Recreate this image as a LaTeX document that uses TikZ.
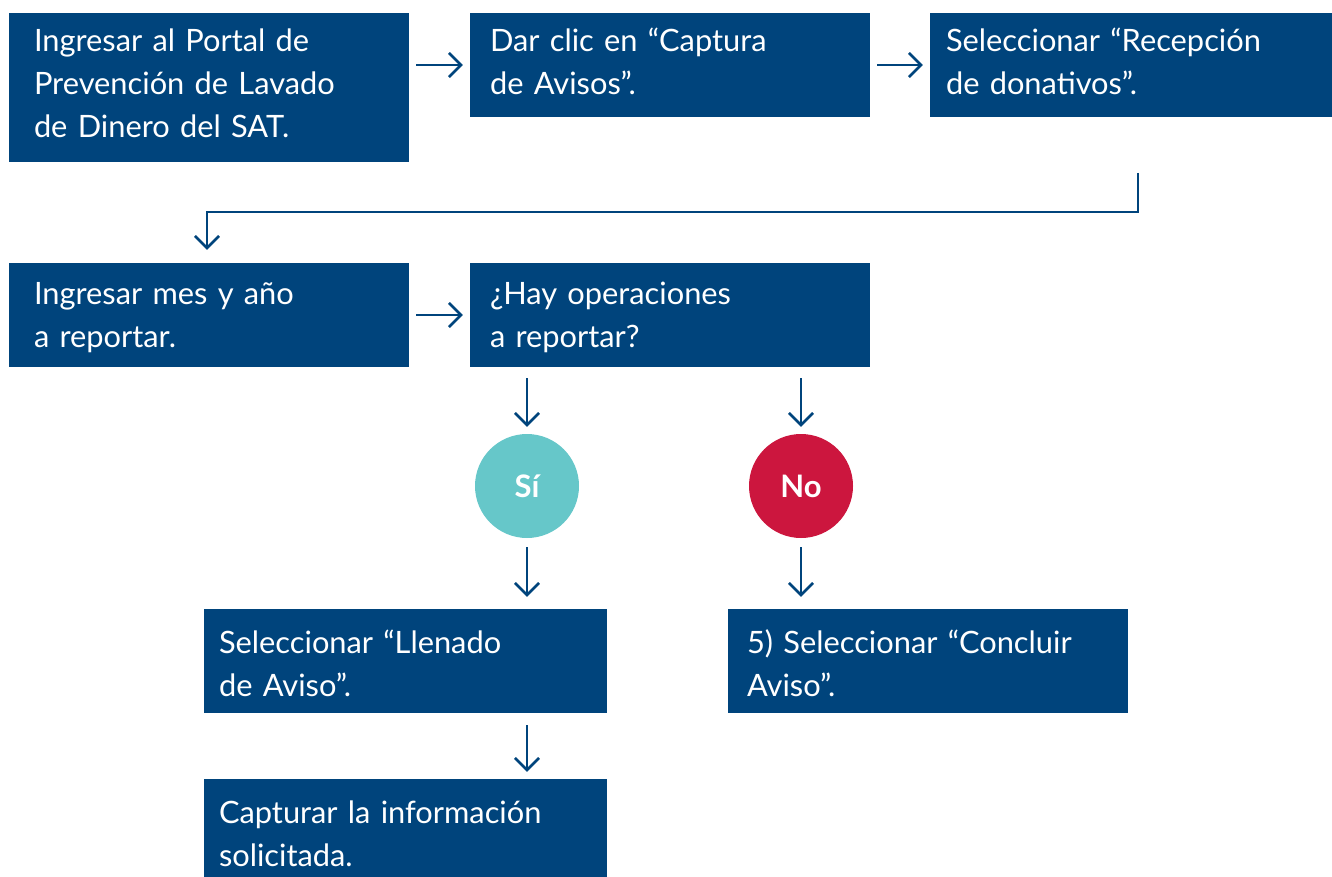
\documentclass[tikz,border=0pt]{standalone}
\usepackage{fontspec}
\setmainfont{Lato}
\usetikzlibrary{arrows.meta,calc}
\definecolor{satblue}{RGB}{0,68,124}
\definecolor{siteal}{RGB}{102,199,201}
\definecolor{nored}{RGB}{204,22,62}
\newcommand\myboxpad{\endgraf\kern-5pt\hrule height0pt width0pt}
\newcommand\mytoppad{\endgraf\kern8pt\hrule height0pt width0pt}
\begin{document}
\begin{tikzpicture}[x=1pt,y=-1pt,
  box/.style={rectangle,fill=satblue,text=white,align=left,
    font=\fontsize{30.8}{43}\selectfont,inner ysep=0pt,
    execute at end node=\myboxpad},
  topbox/.style={rectangle,fill=satblue,text=white,align=left,
    font=\fontsize{30.8}{43}\selectfont,inner ysep=0pt,
    execute at end node=\mytoppad},
  dot/.style={circle,minimum size=104pt,inner sep=0pt,text=white,
    font=\fontsize{31}{35}\selectfont\bfseries},
  arr/.style={draw=satblue,line width=2.6pt,
    -{Straight Barb[length=12pt,width=24pt,line width=2.6pt]}}]
\useasboundingbox (0,0) rectangle (1332,877);
\node[topbox,minimum width=400pt,minimum height=149pt,inner xsep=25pt,text width=350pt] (b1) at (209,87.5)
  {Ingresar al Portal de\\Prevención de Lavado\\de Dinero del SAT.};
\node[topbox,minimum width=400pt,minimum height=104pt,inner xsep=20pt,text width=360pt] (b2) at (670,65)
  {Dar clic en “Captura\\de Avisos”.};
\node[topbox,minimum width=402pt,minimum height=104pt,inner xsep=16pt,text width=370pt] (b3) at (1131,65)
  {Seleccionar “Recepción\\de donativos”.};
\node[box,minimum width=400pt,minimum height=104pt,inner xsep=25pt,text width=350pt] (b4) at (209,315)
  {Ingresar mes y año\\a reportar.};
\node[box,minimum width=400pt,minimum height=104pt,inner xsep=20pt,text width=360pt] (b5) at (670,315)
  {¿Hay operaciones\\a reportar?};
\node[dot,fill=siteal] (si) at (527,486) {Sí};
\node[dot,fill=nored] (no) at (801,486) {No};
\node[box,minimum width=403pt,minimum height=104pt,inner xsep=15pt,text width=373pt] (b6) at (405.5,661)
  {Seleccionar “Llenado\\de Aviso”.};
\node[box,minimum width=400pt,minimum height=104pt,inner xsep=19pt,text width=362pt] (b7) at (928,661)
  {5) Seleccionar “Concluir\\Aviso”.};
\node[box,minimum width=403pt,minimum height=104pt,inner xsep=15pt,text width=373pt] (b8) at (405.5,831)
  {Capturar la información\\solicitada.};
\draw[arr,shorten <=7pt,shorten >=7pt] (b1.east |- b2.west) -- (b2.west);
\draw[arr,shorten <=7pt,shorten >=7pt] (b2.east) -- (b3.west);
\coordinate (c1) at (1138,173);
\draw[arr,shorten >=13pt] (c1) -- (c1 |- 0,212) -| ([xshift=-2pt]b4.north);
\draw[arr,shorten <=7pt,shorten >=7pt] (b4.east) -- (b5.west);
\draw[arr,shorten <=11pt,shorten >=7pt] (b5.south -| si) -- (si.north);
\draw[arr,shorten <=11pt,shorten >=7pt] (b5.south -| no) -- (no.north);
\draw[arr,shorten <=9pt,shorten >=12pt] (si.south) -- (si |- b6.north);
\draw[arr,shorten <=9pt,shorten >=12pt] (no.south) -- (no |- b7.north);
\draw[arr,shorten <=12pt,shorten >=7pt] (b6.south -| si) -- (b8.north -| si);
\end{tikzpicture}
\end{document}
